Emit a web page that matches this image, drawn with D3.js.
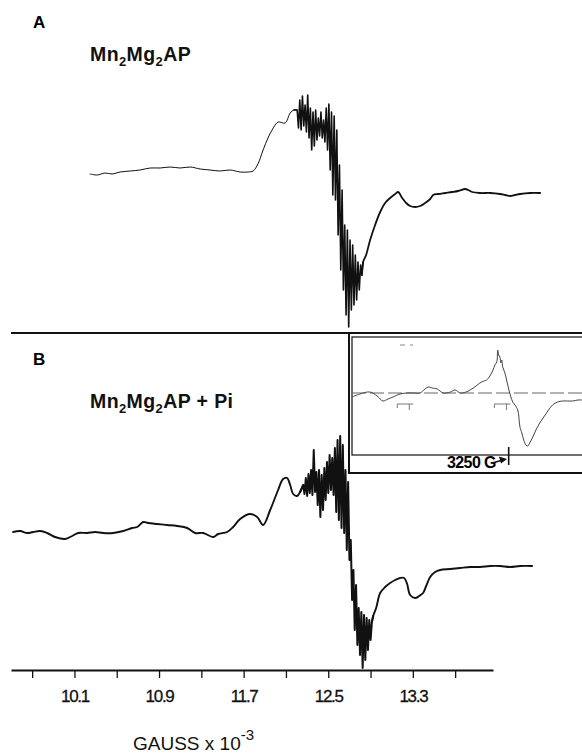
<!DOCTYPE html>
<html lang="en">
<head>
<meta charset="utf-8">
<script src="https://d3js.org/d3.v7.min.js"></script>
<title>EPR spectra</title>
<style>
  body { margin: 0; background: #fff; }
  svg { display: block; font-family: "Liberation Sans", Arial, sans-serif; }
</style>
</head>
<body>
<script>
var width = 582, height = 754;

// field in kG, signal in arbitrary units
var traceALeft = [[10.248,6],[10.315,5],[10.390,7],[10.456,6],[10.532,8],[10.627,9],[10.721,10],[10.816,12],
  [10.910,12],[11.005,13],[11.100,12],[11.194,13],[11.289,11],[11.383,10],[11.478,9],[11.572,10],[11.667,8],
  [11.743,8],[11.790,9],[11.835,16],[11.884,30],[11.930,42],[11.969,50],[12.026,58],[12.092,57],[12.140,67],[12.175,70]];
var noiseAStart = 12.206, noiseStep = 0.0125;
var noiseA = [70,52,80,50,84,54,75,48,85,42,72,30,68,34,70,40,62,44,68,42,60,38,72,30,76,10,68,-15,64,-20,
  50,-55,15,-90,-10,-110,-45,-135,-50,-147,-60,-130,-65,-125,-75,-120,-82,-110,-85,-95];
var traceARight = [[12.830,-82],[12.858,-75],[12.896,-60],[12.943,-45],[12.991,-32],[13.038,-23],[13.085,-18],
  [13.133,-14],[13.161,-12],[13.199,-18],[13.237,-23],[13.274,-26],[13.322,-27],[13.369,-26],[13.416,-23],
  [13.464,-19],[13.492,-15],[13.539,-14],[13.605,-13],[13.672,-12],[13.728,-11],[13.795,-9],[13.823,-10],
  [13.861,-12],[13.936,-13],[14.031,-13],[14.125,-14],[14.173,-15],[14.220,-16],[14.267,-15],[14.315,-14],
  [14.409,-13],[14.504,-13]];

var traceBLeft = [[9.520,8],[9.587,9],[9.653,7],[9.709,8],[9.776,9],[9.842,7],[9.917,3],[10.012,1],[10.078,4],
  [10.135,7],[10.220,7],[10.296,8],[10.371,7],[10.466,7],[10.561,9],[10.646,12],[10.693,13],[10.750,18],
  [10.797,17],[10.882,16],[10.977,15],[11.071,14],[11.166,12],[11.241,7],[11.317,7],[11.412,3],[11.459,6],
  [11.544,8],[11.601,13],[11.667,21],[11.761,26],[11.828,23],[11.884,15],[11.951,30],[12.026,50],[12.073,61],
  [12.111,62],[12.140,55],[12.168,46],[12.206,44],[12.234,48]];
var noiseBStart = 12.263;
var noiseB = [55,46,62,44,66,47,70,45,90,48,68,35,70,23,65,30,72,40,78,47,85,50,82,45,92,28,100,20,104,12,
  95,7,70,-10,58,-20,0,-60,-30,-90,-45,-105,-68,-115,-72,-128,-75,-120,-78,-110,-80,-100,-82];
var traceBRight = [[12.925,-76],[12.953,-68],[12.991,-53],[13.038,-47],[13.085,-43],[13.133,-40],[13.180,-38],
  [13.218,-38],[13.246,-44],[13.274,-55],[13.322,-58],[13.360,-56],[13.397,-53],[13.426,-46],[13.464,-37],
  [13.511,-32],[13.558,-30],[13.653,-29],[13.747,-28],[13.842,-27],[13.936,-27],[14.031,-26],[14.125,-26],
  [14.220,-27],[14.315,-26],[14.428,-26]];

// inset spectrum, field in G
var insetTrace = [[2750,-4],[2775,-1],[2807,1],[2830,-3],[2849,-8],[2865,-6],[2881,-4],[2903,-1],[2926,0],
  [2948,0],[2967,0],[2983,4],[2993,6],[3006,5],[3022,4],[3041,0],[3064,1],[3079,3],[3095,0],[3114,1],
  [3127,3],[3146,7],[3158,10],[3171,12],[3180,13],[3190,17],[3200,23],[3206,28],[3212,31],[3215,43],
  [3218,38],[3222,36],[3225,30],[3228,33],[3231,26],[3238,20],[3244,12],[3250,4],[3257,-4],[3263,-9],
  [3270,-12],[3279,-17],[3286,-34],[3292,-40],[3298,-47],[3305,-52],[3311,-53],[3317,-50],[3327,-44],
  [3337,-37],[3349,-30],[3362,-24],[3375,-18],[3390,-12],[3406,-9],[3422,-8],[3438,-8],[3454,-8],
  [3471,-7],[3484,-7]];
var insetMarker = 3250;

var tickFields = [9.7,10.1,10.5,10.9,11.3,11.7,12.1,12.5,12.9,13.3,13.7];
var tickLabels = ["10.1","10.9","11.7","12.5","13.3"];

var svg = d3.select("body").append("svg").attr("width", width).attr("height", height);

var x = d3.scaleLinear().domain([9.5, 14.058]).range([11, 493]);
var yA = d3.scaleLinear().domain([-160, 160]).range([340, 20]);
var yB = d3.scaleLinear().domain([-160, 160]).range([700, 380]);

// one trace = smooth left part, dense noisy centre, smooth right part
function drawTrace(left, start, noise, right, y, wLeft, wNoise, wRight) {
  var mid = noise.map(function(v, i) { return [start + i * noiseStep, v]; });
  var smooth = d3.line().curve(d3.curveCatmullRom.alpha(0.5))
    .x(function(d){ return x(d[0]); }).y(function(d){ return y(d[1]); });
  var straight = d3.line().x(function(d){ return x(d[0]); }).y(function(d){ return y(d[1]); });
  var g = svg.append("g").attr("fill", "none").attr("stroke", "#111")
    .attr("stroke-linejoin", "round").attr("stroke-linecap", "round");
  g.append("path").attr("d", smooth(left.concat([mid[0]]))).attr("stroke-width", wLeft);
  g.append("path").attr("d", straight([left[left.length - 1]].concat(mid, [right[0]]))).attr("stroke-width", wNoise);
  g.append("path").attr("d", smooth([mid[mid.length - 1]].concat(right))).attr("stroke-width", wRight);
}
drawTrace(traceALeft, noiseAStart, noiseA, traceARight, yA, 1, 1.6, 1.8);
drawTrace(traceBLeft, noiseBStart, noiseB, traceBRight, yB, 1.9, 2, 1.9);

// divider between panels
svg.append("line").attr("x1", 11).attr("x2", width).attr("y1", 333).attr("y2", 333)
  .attr("stroke", "#111").attr("stroke-width", 2);

// inset box
var inset = svg.append("g");
inset.append("rect").attr("x", 349).attr("y", 333).attr("width", 250).attr("height", 140)
  .attr("fill", "#fff").attr("stroke", "#111").attr("stroke-width", 2);
inset.append("rect").attr("x", 352).attr("y", 337).attr("width", 250).attr("height", 118)
  .attr("fill", "none").attr("stroke", "#222").attr("stroke-width", 1.3);

var xi = d3.scaleLinear().domain([2750, 3484]).range([352, 582]);
var yi = d3.scaleLinear().domain([-60, 60]).range([453, 333]);

inset.append("line").attr("x1", 352).attr("x2", width).attr("y1", yi(0)).attr("y2", yi(0))
  .attr("stroke", "#666").attr("stroke-width", 1).attr("stroke-dasharray", "14,4");
inset.append("path")
  .attr("d", d3.line().curve(d3.curveCatmullRom.alpha(0.5))
    .x(function(d){ return xi(d[0]); }).y(function(d){ return yi(d[1]); })(insetTrace))
  .attr("fill", "none").attr("stroke", "#444").attr("stroke-width", 1);

// small reference marks in the inset
[2920, 3230].forEach(function(f) {
  var cx = xi(f);
  inset.append("path")
    .attr("d", "M" + (cx - 8) + ",404h16M" + (cx - 8) + ",404v4M" + (cx + 4) + ",404v6")
    .attr("fill", "none").attr("stroke", "#777").attr("stroke-width", 1);
});
inset.append("path").attr("d", "M400,345h5M410,345h3").attr("stroke", "#888").attr("stroke-width", 1.2);

inset.append("line").attr("x1", xi(insetMarker)).attr("x2", xi(insetMarker)).attr("y1", 447).attr("y2", 465)
  .attr("stroke", "#111").attr("stroke-width", 1.6);
inset.append("text").attr("x", 447).attr("y", 468).attr("font-size", 16).attr("font-weight", "bold")
  .attr("letter-spacing", -0.6).text("3250 G");
inset.append("path").attr("d", "M492,463 L503,460")
  .attr("stroke", "#111").attr("stroke-width", 1.6);
inset.append("path").attr("d", "M499,456.5 L507,459 L501,463.5 Z").attr("fill", "#111");

// bottom axis
var xAxis = d3.axisBottom(x).tickValues(tickFields).tickSize(8).tickSizeOuter(0).tickPadding(12)
  .tickFormat(function(d) {
    var s = d3.format(".1f")(d);
    return tickLabels.indexOf(s) >= 0 ? s : "";
  });
var gx = svg.append("g").attr("transform", "translate(0,670)").call(xAxis);
gx.select(".domain").attr("stroke", "#111").attr("stroke-width", 2);
gx.selectAll(".tick line").attr("stroke", "#111").attr("stroke-width", 1.3);
gx.selectAll(".tick text").attr("font-size", 17).attr("fill", "#111").attr("letter-spacing", -1.3)
  .attr("stroke", "#111").attr("stroke-width", 0.3)
  .attr("font-family", "Liberation Sans, Arial, sans-serif");

var xl = svg.append("text").attr("x", 133).attr("y", 750).attr("font-size", 19).attr("fill", "#111");
xl.append("tspan").text("GAUSS x 10");
xl.append("tspan").attr("dy", -10).attr("font-size", 15).text("-3");

// panel labels
function formula(y, extra) {
  var t = svg.append("text").attr("x", 90).attr("y", y).attr("font-size", 19.5)
    .attr("font-weight", "bold").attr("letter-spacing", 0.4).attr("fill", "#111");
  t.append("tspan").text("Mn");
  t.append("tspan").attr("dy", 5).attr("font-size", 13).text("2");
  t.append("tspan").attr("dy", -5).text("Mg");
  t.append("tspan").attr("dy", 5).attr("font-size", 13).text("2");
  t.append("tspan").attr("dy", -5).text("AP" + extra);
}
svg.append("text").attr("x", 33).attr("y", 28).attr("font-size", 17).attr("font-weight", "bold").text("A");
svg.append("text").attr("x", 33).attr("y", 365).attr("font-size", 17).attr("font-weight", "bold").text("B");
formula(61, "");
formula(408, " + Pi");
</script>
</body>
</html>
